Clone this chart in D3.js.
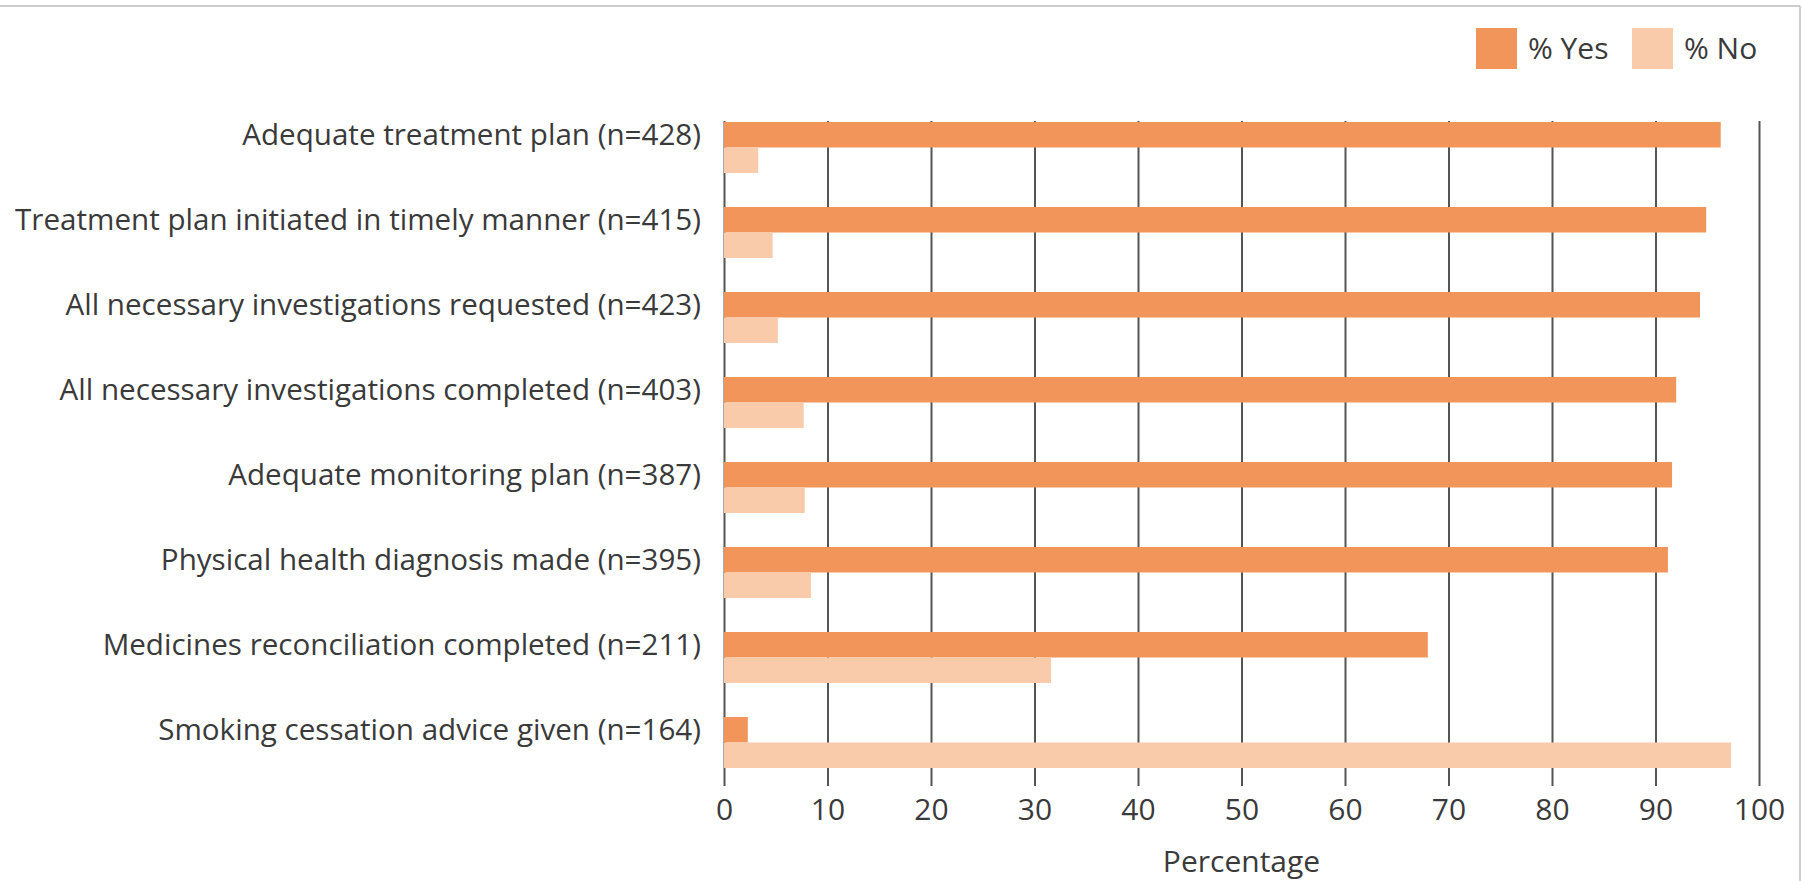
<!DOCTYPE html>
<html>
<head>
<meta charset="utf-8">
<script src="https://cdn.jsdelivr.net/npm/d3@7/dist/d3.min.js"></script>
<style>
  html, body { margin: 0; padding: 0; background: #fff; }
  svg { display: block; }
  text { font-family: "Open Sans", "Noto Sans", sans-serif; fill: #3a3a3a; }
</style>
</head>
<body>
<svg id="chart" width="1802" height="881"></svg>
<script>
// Audit indicators and the share of cases meeting each one
const categories = [
  "Adequate treatment plan (n=428)",
  "Treatment plan initiated in timely manner (n=415)",
  "All necessary investigations requested (n=423)",
  "All necessary investigations completed (n=403)",
  "Adequate monitoring plan (n=387)",
  "Physical health diagnosis made (n=395)",
  "Medicines reconciliation completed (n=211)",
  "Smoking cessation advice given (n=164)"
];
const yesValues = [96.3, 94.9, 94.3, 92.0, 91.6, 91.2, 68.0, 2.3];
const noValues  = [3.3, 4.7, 5.2, 7.7, 7.8, 8.4, 31.6, 97.3];
const seriesNames = ["% Yes", "% No"];
const seriesColors = ["#f2955a", "#f9cbaa"];
const xTicks = [0, 10, 20, 30, 40, 50, 60, 70, 80, 90, 100];
const xTitle = "Percentage";

const svg = d3.select("#chart");
const W = 1802, H = 881;

// frame lines along the top and right edge
svg.append("line").attr("x1", 0).attr("x2", 1800).attr("y1", 6).attr("y2", 6)
  .attr("stroke", "#bdbdbd").attr("stroke-width", 1.5);
svg.append("line").attr("x1", 1800).attr("x2", 1800).attr("y1", 6).attr("y2", H)
  .attr("stroke", "#bdbdbd").attr("stroke-width", 1.5);

const plotTop = 121, plotBottom = 786;
const x = d3.scaleLinear().domain([0, 100]).range([724, 1759]);
const y = d3.scaleBand().domain(categories).range([105, 785])
  .paddingInner(0.4).paddingOuter(0.2);
const sub = d3.scaleBand().domain(seriesNames).range([0, y.bandwidth()]);

// gridlines + tick labels
const axis = d3.axisBottom(x).tickValues(xTicks).tickFormat(d3.format("d"))
  .tickSizeInner(-(plotBottom - plotTop)).tickSizeOuter(0).tickPadding(13);
const gx = svg.append("g").attr("transform", `translate(0,${plotBottom})`).call(axis);
gx.select(".domain").remove();
gx.selectAll(".tick line").attr("stroke", "#555").attr("stroke-width", 2);
gx.selectAll(".tick text").attr("font-size", 30).style("fill", "#3a3a3a")
  .attr("font-family", "'Open Sans', sans-serif");

// bars
const rows = categories.map((c, i) => ({ cat: c, vals: [yesValues[i], noValues[i]] }));
const gRows = svg.append("g").selectAll("g").data(rows).join("g")
  .attr("transform", d => `translate(0,${y(d.cat)})`);
gRows.selectAll("rect").data(d => d.vals.map((v, j) => ({ v, s: seriesNames[j], c: seriesColors[j] })))
  .join("rect")
  .attr("x", x(0))
  .attr("y", d => sub(d.s))
  .attr("width", d => x(d.v) - x(0))
  .attr("height", sub.bandwidth())
  .attr("fill", d => d.c);

// category labels, aligned with the "Yes" bar of each row
svg.append("g").selectAll("text").data(categories).join("text")
  .attr("x", 701)
  .attr("y", d => y(d) + sub(seriesNames[0]) + sub.bandwidth() / 2)
  .attr("dy", "0.35em")
  .attr("text-anchor", "end")
  .attr("font-size", 29.6)
  .text(d => d);

// axis title
svg.append("text")
  .attr("x", (x(0) + x(100)) / 2)
  .attr("y", 872)
  .attr("text-anchor", "middle")
  .attr("font-size", 30)
  .text(xTitle);

// legend
const legendX = [1476, 1632];
const lg = svg.append("g").selectAll("g").data(seriesNames).join("g")
  .attr("transform", (d, i) => `translate(${legendX[i]},28)`);
lg.append("rect").attr("width", 41).attr("height", 41)
  .attr("fill", (d, i) => seriesColors[i]);
lg.append("text").attr("x", 52).attr("y", 20.5).attr("dy", "0.35em")
  .attr("font-size", 30).text(d => d);
</script>
</body>
</html>
